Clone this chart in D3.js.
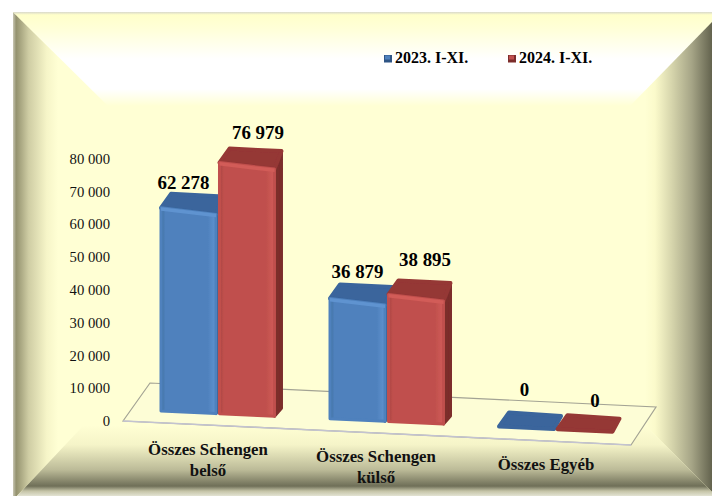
<!DOCTYPE html>
<html>
<head>
<meta charset="utf-8">
<script src="https://cdn.jsdelivr.net/npm/d3@7"></script>
<style>
body { margin: 0; background: #fff; }
svg { display: block; font-family: "Liberation Serif", serif; }
.axis text { font-family: "Liberation Serif", serif; font-size: 14.7px; fill: #111; }
.cat { font-size: 16.8px; font-weight: bold; fill: #111; text-anchor: middle; }
.val { font-size: 18.9px; font-weight: bold; fill: #000; text-anchor: middle; }
.leg { font-size: 16px; font-weight: bold; fill: #000; }
</style>
</head>
<body>
<div id="chart"></div>
<script>
var categories = [["Összes Schengen", "belső"], ["Összes Schengen", "külső"], ["Összes Egyéb"]];
var seriesNames = ["2023. I-XI.", "2024. I-XI."];
var values2023 = [62278, 36879, 0];
var values2024 = [76979, 38895, 0];
var tickValues = [0, 10000, 20000, 30000, 40000, 50000, 60000, 70000, 80000];

// hand placed labels in the original, so nudge them per series / group
var labelNudgeX = [[-5, 0, -2], [11, 9, 10]];
var labelNudgeY = [[-5, -6.5, -16.5], [-9.5, -14.5, -8]];
var categoryNudgeX = [-12, -13, -12];

var width = 712, height = 496;
// perspective of the top face: back corners relative to the front ones
var depthLeft = { x: 10, y: -14 };
var depthRight = { x: 7, y: -16 };

var svg = d3.select("#chart").append("svg")
    .attr("width", width)
    .attr("height", height);
var defs = svg.append("defs");

function gradient(id, xs, ys, stops) {
    var g = defs.append("linearGradient").attr("id", id)
        .attr("gradientUnits", "userSpaceOnUse")
        .attr("x1", xs[0]).attr("y1", ys[0]).attr("x2", xs[1]).attr("y2", ys[1]);
    stops.forEach(function(s) {
        g.append("stop").attr("offset", s[0]).attr("stop-color", s[1]);
    });
}

defs.append("filter").attr("id", "soft")
    .append("feGaussianBlur").attr("stdDeviation", 0.6);

///////////////////////////// FRAME /////////////////////////////////////

var pale = "#ffffd4";
gradient("bevelLeft", [13, 58], [0, 0], [[0, "#c9c7b4"], [0.07, "#94926f"], [0.35, "#cfcda4"], [0.75, "#f6f5c8"], [1, "#ffffd4"]]);
gradient("bevelRight", [712, 645], [0, 0], [[0, "#63634e"], [0.3, "#a5a486"], [0.6, "#d6d5ac"], [0.85, "#fbfacb"], [1, "#ffffd4"]]);
gradient("bevelTop", [0, 0], [12, 106], [[0, "#d9d9cc"], [0.03, "#ffffca"], [0.18, "#ffffd8"], [0.5, "#ffffff"], [0.82, "#ffffff"], [1, "#ffffd4"]]);
gradient("bevelBottom", [0, 0], [425, 496], [[0, "#ffffd4"], [0.28, "#f5f4c8"], [0.63, "#bcbb98"], [0.86, "#6f6f58"], [0.93, "#c4c3a6"], [1, "#e3e3d3"]]);

svg.append("rect").attr("x", 13).attr("y", 12).attr("width", width - 13).attr("height", 484).attr("fill", pale);
svg.append("path").attr("d", "M13,12 L108,106 L108,400 L13,500 Z").attr("fill", "url(#bevelLeft)");
svg.append("path").attr("d", "M712,12 L632,106 L632,412 L712,492 Z").attr("fill", "url(#bevelRight)");
svg.append("path").attr("d", "M13,12 L712,12 L712,22 L630,106 L108,106 Z").attr("fill", "url(#bevelTop)");
svg.append("path").attr("d", "M17,496 L100,408 L628,408 L712,492 L712,496 Z").attr("fill", "url(#bevelBottom)");

///////////////////////////// SCALES /////////////////////////////////////

var x0 = d3.scaleBand().domain(d3.range(categories.length)).range([161, 617]).paddingInner(0.302);
var x1 = d3.scaleBand().domain(d3.range(seriesNames.length)).range([0, x0.bandwidth() - 4.5]).paddingInner(0.06);
var yAxisScale = d3.scaleLinear().domain([0, 80000]).range([421, 158.5]);
var heightScale = d3.scaleLinear().domain([0, 80000]).range([0, 261]);
// floor runs slightly downhill to the right
var base = d3.scaleLinear().domain([160, 620]).range([411, 432]);

///////////////////////////// FLOOR /////////////////////////////////////

svg.append("path")
    .attr("d", "M123,421 L150,383 L656,407 L631,445 Z")
    .attr("fill", "#fdfdd6")
    .attr("stroke", "#a3a394")
    .attr("stroke-width", 1.2);
svg.append("line")
    .attr("x1", 123).attr("y1", 421).attr("x2", 631).attr("y2", 445)
    .attr("stroke", "#c3c3d0")
    .attr("stroke-width", 1.4);

///////////////////////////// AXIS /////////////////////////////////////

var yAxis = d3.axisLeft(yAxisScale)
    .tickValues(tickValues)
    .tickSize(0)
    .tickPadding(0)
    .tickFormat(function(d) { return d3.format(",")(d).replace(",", " "); });

svg.append("g")
    .attr("class", "axis")
    .attr("transform", "translate(110,0)")
    .call(yAxis)
    .select(".domain").remove();

///////////////////////////// BARS /////////////////////////////////////

var palette = [
    { front: "#4f81bd", light: "#5f93d0", dark: "#41709f", top: "#3a659c", side: "#2f5585" },
    { front: "#c0504d", light: "#d25c58", dark: "#a94542", top: "#953735", side: "#7c2d2b" }
];

var bars = [];
[values2023, values2024].forEach(function(values, s) {
    values.forEach(function(v, c) { bars.push({ s: s, c: c, v: v }); });
});

palette.forEach(function(p, s) {
    var g = defs.append("linearGradient").attr("id", "front" + s);
    g.append("stop").attr("offset", 0).attr("stop-color", p.dark);
    g.append("stop").attr("offset", 0.08).attr("stop-color", p.front);
    g.append("stop").attr("offset", 0.85).attr("stop-color", p.front);
    g.append("stop").attr("offset", 1).attr("stop-color", p.light);
});

var shapes = svg.selectAll(".bar").data(bars).enter().append("g").attr("class", "bar");

function corners(d) {
    var l = x0(d.c) + x1(d.s);
    var r = l + x1.bandwidth();
    var h = heightScale(d.v);
    // standing bars show their front top edge dipping towards the side face
    var drop = d.v > 0 ? 4 : 0;
    return {
        l: l, r: r, yl: base(l), yr: base(r),
        tl: base(l) - h, tr: base(r) - h + drop,
        bl: [l + depthLeft.x, base(l) - h + depthLeft.y],
        br: [r + depthRight.x, base(r) - h + depthLeft.y + (d.v > 0 ? 0 : 1)]
    };
}

shapes.each(function(d) {
    var g = d3.select(this).append("g").attr("filter", "url(#soft)");
    var p = palette[d.s];
    var k = corners(d);

    // side and top face
    if (d.v > 0) {
        g.append("path")
            .attr("d", "M" + k.r + "," + k.tr + " L" + k.br[0] + "," + k.br[1] +
                " L" + k.br[0] + "," + (k.yr + depthRight.y + 8) + " L" + k.r + "," + k.yr + " Z")
            .attr("fill", p.side).attr("stroke", p.side)
            .attr("stroke-width", 3).attr("stroke-linejoin", "round");
    }
    g.append("path")
        .attr("d", "M" + k.l + "," + k.tl + " L" + k.bl[0] + "," + k.bl[1] +
            " L" + k.br[0] + "," + k.br[1] + " L" + k.r + "," + k.tr + " Z")
        .attr("fill", p.top).attr("stroke", p.top)
        .attr("stroke-width", 4).attr("stroke-linejoin", "round");

    // front face with a lighter bevel along the top
    if (d.v > 0) {
        g.append("path")
            .attr("d", "M" + k.l + "," + k.tl + " L" + k.r + "," + k.tr +
                " L" + k.r + "," + k.yr + " L" + k.l + "," + k.yl + " Z")
            .attr("fill", "url(#front" + d.s + ")")
            .attr("stroke", p.front)
            .attr("stroke-width", 3).attr("stroke-linejoin", "round");
        g.append("path")
            .attr("d", "M" + k.l + "," + (k.tl - 0.5) + " L" + k.r + "," + (k.tr - 0.5) +
                " L" + k.r + "," + (k.tr + 3) + " L" + k.l + "," + (k.tl + 3) + " Z")
            .attr("fill", p.light);
    }
});

///////////////////////////// LABELS /////////////////////////////////////

shapes.append("text")
    .attr("class", "val")
    .attr("x", function(d) { return x0(d.c) + x1(d.s) + x1.bandwidth() / 2 + labelNudgeX[d.s][d.c]; })
    .attr("y", function(d) {
        var k = corners(d);
        return k.bl[1] + labelNudgeY[d.s][d.c];
    })
    .text(function(d) { return d3.format(",")(d.v).replace(",", " "); });

categories.forEach(function(lines, c) {
    var mid = x0(c) + x0.bandwidth() / 2;
    var cx = mid + categoryNudgeX[c];
    var t = svg.append("text").attr("class", "cat").attr("x", cx).attr("y", base(mid) + 41);
    lines.forEach(function(line, i) {
        t.append("tspan").attr("x", cx).attr("dy", i ? 21 : 0).text(line);
    });
});

///////////////////////////// LEGEND /////////////////////////////////////

var legendX = d3.scaleOrdinal().domain(seriesNames).range([384, 508]);

var legend = svg.selectAll(".legend").data(seriesNames).enter().append("g")
    .attr("class", "legend")
    .attr("transform", function(d) { return "translate(" + legendX(d) + ",55)"; });

legend.append("rect")
    .attr("width", 8).attr("height", 7.5)
    .attr("fill", function(d, i) { return palette[i].side; });
legend.append("rect")
    .attr("x", 1).attr("y", 0.5)
    .attr("width", 5).attr("height", 4)
    .attr("fill", function(d, i) { return palette[i].front; });
legend.append("text")
    .attr("class", "leg")
    .attr("x", 11).attr("y", 8)
    .text(function(d) { return d; });
</script>
</body>
</html>
